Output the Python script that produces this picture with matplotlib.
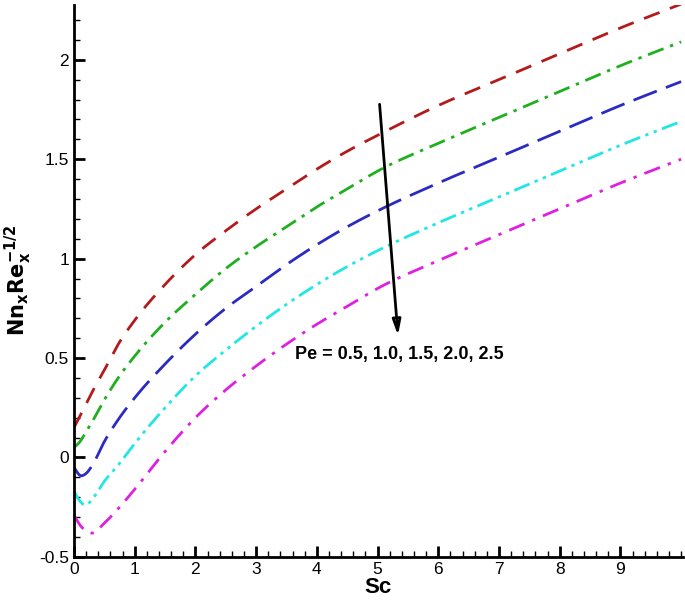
import numpy as np
import matplotlib
matplotlib.use("Agg")
import matplotlib.pyplot as plt
from matplotlib.ticker import MultipleLocator

sc = [0, 0.1, 0.2, 0.3, 0.5, 0.75, 1, 1.5, 2, 2.5, 3, 3.5, 4, 4.5, 5, 6, 7, 8, 9, 10]
pe05 = [0.15, 0.21, 0.27, 0.33, 0.44, 0.58, 0.69, 0.87, 1.02, 1.14, 1.25, 1.35, 1.45, 1.54, 1.62, 1.77, 1.90, 2.03, 2.16, 2.28]
pe10 = [0.05, 0.08, 0.13, 0.18, 0.29, 0.41, 0.51, 0.68, 0.82, 0.95, 1.06, 1.16, 1.26, 1.35, 1.44, 1.58, 1.71, 1.84, 1.97, 2.09]
pe15 = [-0.05, -0.09, -0.08, -0.04, 0.08, 0.20, 0.30, 0.47, 0.62, 0.75, 0.86, 0.97, 1.07, 1.16, 1.24, 1.38, 1.51, 1.64, 1.77, 1.89]
pe20 = [-0.17, -0.22, -0.24, -0.21, -0.12, -0.03, 0.07, 0.25, 0.41, 0.54, 0.66, 0.77, 0.87, 0.96, 1.04, 1.18, 1.31, 1.44, 1.57, 1.69]
pe25 = [-0.29, -0.34, -0.37, -0.38, -0.33, -0.25, -0.16, 0.03, 0.20, 0.34, 0.46, 0.57, 0.67, 0.76, 0.85, 0.99, 1.12, 1.25, 1.38, 1.50]
label = "Pe = 0.5, 1.0, 1.5, 2.0, 2.5"

def smooth(x, y, n=20):
    x = np.asarray(x, float); y = np.asarray(y, float)
    m = np.gradient(y, x)
    xs, ys = [], []
    for i in range(len(x) - 1):
        h = x[i+1] - x[i]
        t = np.linspace(0, 1, n, endpoint=False)
        h00 = 2*t**3 - 3*t**2 + 1; h10 = t**3 - 2*t**2 + t
        h01 = -2*t**3 + 3*t**2; h11 = t**3 - t**2
        xs.append(x[i] + t*h)
        ys.append(h00*y[i] + h10*h*m[i] + h01*y[i+1] + h11*h*m[i+1])
    xs.append([x[-1]]); ys.append([y[-1]])
    return np.concatenate(xs), np.concatenate(ys)

plt.rcParams["font.family"] = "Liberation Sans"
fig = plt.figure(figsize=(6.85, 6.08), dpi=100)
ax = fig.add_axes([0.108, 0.084, 0.889, 0.908])

styles = [
    (pe05, "#B31B1B", (0, (6, 4))),
    (pe10, "#1FAF1F", (0, (6, 2.5, 1.2, 2.5))),
    (pe15, "#2B2BC4", (0, (9, 3.5))),
    (pe20, "#22E6E6", (0, (6, 2, 1.2, 2, 1.2, 2))),
    (pe25, "#E020E0", (0, (6, 3, 1.2, 3))),
]
for ys, c, ls in styles:
    xx, yy = smooth(sc, ys)
    ax.plot(xx, yy, color=c, lw=2, linestyle=ls)

ax.annotate("", xy=(5.34, 0.60), xytext=(5.03, 1.79),
            arrowprops=dict(arrowstyle="-|>,head_length=0.9,head_width=0.25", color="black", lw=2, fill=False))
ax.text(3.64, 0.52, label, fontsize=13, fontweight="bold", va="center", ha="left")

ax.set_xlim(0, 10.03)
ax.set_ylim(-0.5, 2.276)
ax.set_xticks(range(0, 10))
ax.set_yticks([-0.5, 0, 0.5, 1, 1.5, 2])
ax.set_yticklabels(["-0.5", "0", "0.5", "1", "1.5", "2"])
ax.xaxis.set_minor_locator(MultipleLocator(0.2))
ax.yaxis.set_minor_locator(MultipleLocator(0.1))
ax.tick_params(which="both", direction="in", labelsize=12.5)
ax.tick_params(which="major", length=8, width=2)
ax.tick_params(which="minor", length=4, width=1)
for s in ["top", "right"]:
    ax.spines[s].set_visible(False)
for s in ["left", "bottom"]:
    ax.spines[s].set_linewidth(2)
ax.set_xlabel("Sc", fontsize=16, fontweight="bold", labelpad=0)
ax.set_ylabel(r"$\mathbf{Nn_xRe_x^{-1/2}}$", fontsize=15, labelpad=4)
fig.savefig("out.png", dpi=100)
